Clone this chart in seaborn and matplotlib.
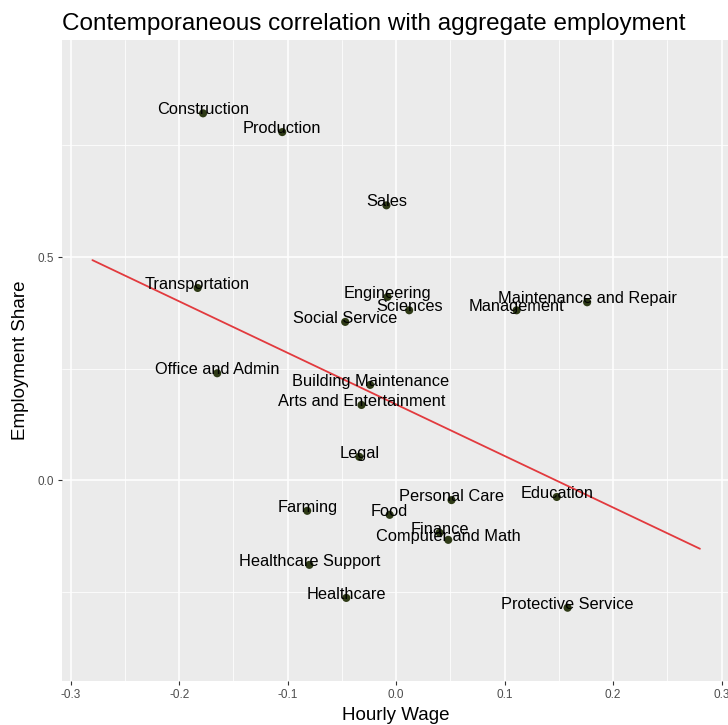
import numpy as np
import pandas as pd
import matplotlib
matplotlib.use("Agg")
import matplotlib.pyplot as plt
import seaborn as sns

# Occupation groups: correlation of hourly wage and employment share with aggregate employment
occupations = [
    "Construction", "Production", "Sales", "Transportation", "Engineering",
    "Sciences", "Social Service", "Office and Admin", "Building Maintenance",
    "Arts and Entertainment", "Management", "Maintenance and Repair", "Legal",
    "Personal Care", "Education", "Farming", "Food", "Finance",
    "Computer and Math", "Healthcare Support", "Healthcare", "Protective Service",
]
hourly_wage = [
    -0.178, -0.105, -0.009, -0.183, -0.008,
    0.012, -0.047, -0.165, -0.024,
    -0.032, 0.111, 0.176, -0.034,
    0.051, 0.148, -0.082, -0.006, 0.040,
    0.048, -0.080, -0.046, 0.158,
]
employment_share = [
    0.822, 0.780, 0.616, 0.431, 0.411,
    0.381, 0.355, 0.240, 0.214,
    0.169, 0.381, 0.399, 0.053,
    -0.044, -0.037, -0.068, -0.077, -0.117,
    -0.133, -0.189, -0.263, -0.285,
]
x_ticks = [-0.3, -0.2, -0.1, 0.0, 0.1, 0.2, 0.3]
y_ticks = [0.0, 0.5]

df = pd.DataFrame({"occupation": occupations,
                   "wage": hourly_wage,
                   "share": employment_share})

sns.set_theme(style="darkgrid")
plt.rcParams["font.family"] = ["Liberation Sans", "DejaVu Sans"]

fig = plt.figure(figsize=(7.28, 7.25), dpi=100)
ax = fig.add_axes([0.0852, 0.0607, 0.918, 0.884])
ax.set_facecolor("#EBEBEB")

# x scale limits; the fitted line spans the full scale range
x_limits = (-0.28, 0.28)
ax.set_xlim(*x_limits)
sns.regplot(data=df, x="wage", y="share", ax=ax, scatter=False, ci=None,
            truncate=False, line_kws=dict(color="#E23A3E", lw=1.3, zorder=2))

sns.scatterplot(data=df, x="wage", y="share", ax=ax, s=34,
                color="#2E3A16", edgecolor="none", zorder=3, legend=False)

for _, row in df.iterrows():
    ax.annotate(row["occupation"], (row["wage"], row["share"]),
                xytext=(0, 2.5), textcoords="offset points",
                ha="center", va="center", fontsize=11.8, color="black",
                zorder=4)

# panel with 5% expansion around the scale limits
span = x_limits[1] - x_limits[0]
ax.set_xlim(x_limits[0] - 0.05 * span, x_limits[1] + 0.05 * span)
ax.set_ylim(-0.449, 0.986)

ax.set_xticks(x_ticks)
ax.set_xticklabels([f"{t:.1f}" for t in x_ticks])
ax.set_yticks(y_ticks)
ax.set_yticklabels([f"{t:.1f}" for t in y_ticks])
ax.set_xticks([-0.25, -0.15, -0.05, 0.05, 0.15, 0.25], minor=True)
ax.set_yticks([-0.25, 0.25, 0.75], minor=True)

ax.grid(which="major", color="white", linewidth=1.1)
ax.grid(which="minor", color="white", linewidth=0.55)
for s in ax.spines.values():
    s.set_visible(False)
ax.tick_params(axis="both", which="major", length=3, width=0.8,
               color="#333333", labelsize=8.5, labelcolor="#4D4D4D", pad=3,
               bottom=True, left=True)
ax.tick_params(axis="both", which="minor", length=0)

ax.set_xlabel("Hourly Wage", fontsize=13.5, color="black", labelpad=4)
ax.set_ylabel("Employment Share", fontsize=13.5, color="black", labelpad=6)
ax.set_title("Contemporaneous correlation with aggregate employment",
             loc="left", fontsize=17.5, color="black", pad=7)

fig.savefig("out.png", dpi=100)
